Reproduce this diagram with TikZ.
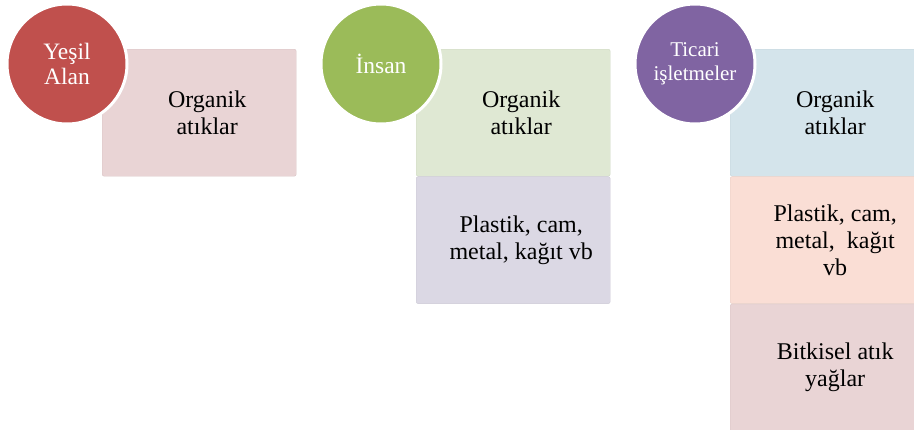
\documentclass[tikz,border=0pt]{standalone}
\usepackage{fontspec}
\setmainfont{Liberation Serif}
\usetikzlibrary{positioning}
\definecolor{yesilc}{HTML}{C0504D}
\definecolor{insanc}{HTML}{9BBB59}
\definecolor{ticaric}{HTML}{8064A2}
\definecolor{pinkbox}{RGB}{233,212,213}
\definecolor{greenbox}{RGB}{223,232,211}
\definecolor{lilacbox}{RGB}{219,216,228}
\definecolor{bluebox}{RGB}{212,228,235}
\definecolor{peachbox}{RGB}{250,222,213}
\begin{document}
\begin{tikzpicture}[x=1pt,y=-1pt,
  hub/.style={circle,draw=white,line width=3pt,fill=#1,minimum size=120pt,inner sep=0pt,text=white,align=center,font=\fontsize{23.5}{25}\selectfont},
  item/.style={rectangle,rounded corners=2pt,draw=#1!93!black,fill=#1,minimum width=194pt,minimum height=127pt,inner sep=0pt},
  itemtext/.style={align=center,font=\fontsize{24}{27}\selectfont}]
  \clip (0,0) rectangle (914,429);
  \node[item=pinkbox,anchor=north west] (yesilA) at (102,49) {};
  \node[item=greenbox,anchor=north west] (insanA) at (416,49) {};
  \node[item=lilacbox,below=0pt of insanA] (insanB) {};
  \node[item=bluebox,anchor=north west] (ticariA) at (730,49) {};
  \node[item=peachbox,below=0pt of ticariA] (ticariB) {};
  \node[item=pinkbox,below=0pt of ticariB] (ticariC) {};
  \node[itemtext] (yesilAt) at ([xshift=8pt]yesilA.center) {Organik\\atıklar};
  \node[itemtext] (insanAt) at ([xshift=8pt]insanA.center) {Organik\\atıklar};
  \node[itemtext] (insanBt) at ([xshift=8pt]insanB.center) {Plastik, cam,\\metal, kağıt vb};
  \node[itemtext] (ticariAt) at ([xshift=8pt]ticariA.center) {Organik\\atıklar};
  \node[itemtext] (ticariBt) at ([xshift=8pt]ticariB.center) {Plastik, cam,\\metal,~ kağıt\\vb};
  \node[itemtext] (ticariCt) at ([xshift=8pt]ticariC.center) {Bitkisel atık\\yağlar};
  \node[hub=yesilc] (yesil) at (67,64) {Yeşil\\Alan};
  \node[hub=insanc] (insan) at (381,64) {İnsan};
  \node[hub=ticaric,font=\fontsize{21}{24}\selectfont] (ticari) at (695,64) {Ticari\\işletmeler};
\end{tikzpicture}
\end{document}
